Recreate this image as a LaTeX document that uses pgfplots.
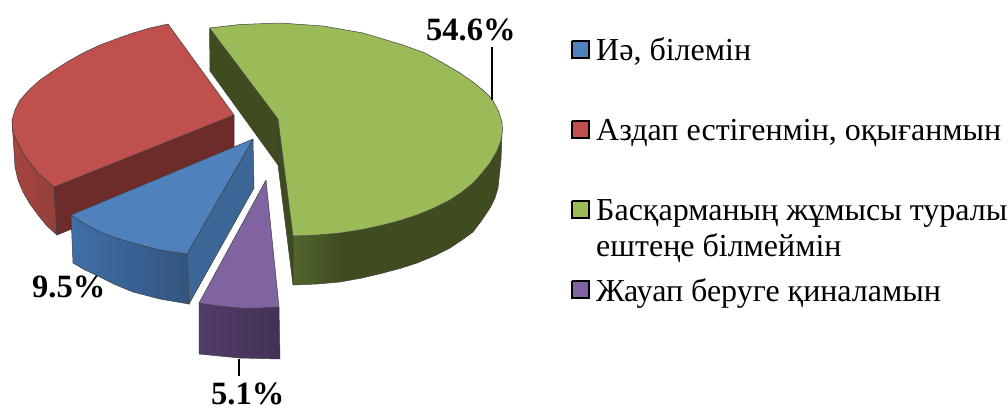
\documentclass[border=0pt]{standalone}
\usepackage{fontspec}
\setmainfont{Liberation Serif}
\usepackage{pgfplots}
\pgfplotsset{compat=1.18}

\definecolor{bluetop}{HTML}{4F81BD}
\definecolor{blueface}{HTML}{3C6695}
\definecolor{bluewallL}{HTML}{3F6FA8}
\definecolor{bluewallR}{HTML}{33557F}
\definecolor{redtop}{HTML}{C0504D}
\definecolor{redface}{HTML}{6D2B29}
\definecolor{redwallL}{HTML}{A8443F}
\definecolor{redwallR}{HTML}{93403C}
\definecolor{greentop}{HTML}{9BBB59}
\definecolor{greenface}{HTML}{3F4C20}
\definecolor{greenwallL}{HTML}{52662E}
\definecolor{purpletop}{HTML}{8064A2}
\definecolor{purplewallL}{HTML}{513C68}
\definecolor{purplewallR}{HTML}{433255}

\pgfplotsset{
  edge/.style={draw=black!75, line width=0.5pt, mark=none},
  bare/.style={draw=none, mark=none},
  swatch/.style={draw=black, line width=1.4pt, mark=none},
  leader/.style={draw=black, line width=1.3pt, mark=none},
}
\newcommand{\pct}[1]{{\fontsize{32.5}{32.5}\selectfont\bfseries #1}}
\newcommand{\leg}[1]{{\fontsize{32}{32}\selectfont #1}}

\begin{document}
\begin{tikzpicture}
\begin{axis}[
    scale only axis, width=1008pt, height=408pt,
    xmin=0, xmax=1008, ymin=0, ymax=408,
    y dir=reverse, axis lines=none, clip=false,
  ]
  % keeps the page as large as the whole frame
  \addplot[bare] coordinates {(0,0) (1008,408)};
  % red slice: outer wall, inner wall, top
  \addplot[edge, left color=redwallL, right color=redwallR] coordinates {
    (12,120) (13,133) (18,143) (23,153) (30,163) (38,173) (46,180) (54,187)
    (57,235) (47,226) (38,215) (30,204) (23,192) (18,180) (15,167) (12,120)};
  \addplot[edge, fill=redface] coordinates {(54,187) (234,115) (234,163) (57,235) (54,187)};
  \addplot[edge, fill=redtop] coordinates {
    (168,24) (150,28) (133,33) (116,39) (100,45) (83,53) (67,62) (53,71) (40,80)
    (29,90) (20,100) (15,110) (12,120) (13,133) (18,143) (23,153) (30,163) (38,173)
    (46,180) (54,187) (234,115) (168,24)};
  % green slice
  \addplot[bare, left color=greenwallL, right color=greenface] coordinates {
    (293,236) (317,235) (340,233) (340,282) (317,284) (293,285) (293,236)};
  \addplot[bare, fill=greenface] coordinates {
    (340,233) (362,229.5) (383,225) (400,220.5) (417,215) (434,208) (450,200) (462,192)
    (473,183) (482,173) (490,163) (497,151) (501,140) (502,133)
    (501,160) (498,188) (495,198) (490,208) (482,220) (473,232) (462,240) (450,248)
    (434,256) (417,263) (400,268.5) (383,273) (362,278) (340,282) (340,233)};
  \addplot[edge] coordinates {
    (293,236) (293,285) (317,284) (340,282) (362,278) (383,273) (400,268.5) (417,263)
    (434,256) (450,248) (462,240) (473,232) (482,220) (490,208) (495,198) (498,188)
    (501,160) (502,133)};
  \addplot[edge, fill=greenface] coordinates {(209.5,28) (278,119) (278,165) (210,71) (209.5,28)};
  \addplot[edge, fill=greenface] coordinates {(278,119) (293,236) (293,285) (278,165) (278,119)};
  \addplot[edge, fill=greentop] coordinates {
    (209.5,28) (240,24.5) (280,23) (323,26) (363,33) (403,45) (425,53) (443,63) (460,73)
    (473,82) (484,91) (492,99) (498,110) (502,122) (502.5,131) (501,140) (497,151) (490,163)
    (482,173) (473,183) (462,192) (450,200) (434,208) (417,215) (400,220.5) (383,225)
    (362,229.5) (340,233) (317,235) (293,236) (278,119) (209.5,28)};
  % blue slice
  \addplot[edge, left color=bluewallL, right color=bluewallR] coordinates {
    (71,215) (85,224) (100,232) (116,238) (133,243) (160,250) (187,254)
    (189,304) (160,299) (133,292) (116,285) (100,277) (85,270) (73,263) (71,215)};
  \addplot[edge, fill=blueface] coordinates {(253,139) (187,254) (189,304) (254,188) (253,139)};
  \addplot[edge, fill=bluetop] coordinates {
    (253,139) (71,215) (85,224) (100,232) (116,238) (133,243) (160,250) (187,254) (253,139)};
  % purple slice
  \addplot[edge, left color=purplewallL, right color=purplewallR] coordinates {
    (199,303) (215,305.5) (240,308) (279,307) (280,359) (240,358) (199,354) (199,303)};
  \addplot[edge, fill=purpletop] coordinates {
    (266,180) (199,303) (215,305.5) (240,308) (260,308) (279,307) (266,180)};
  % leader lines
  \addplot[leader] coordinates {(492,47) (492,100)};
  \addplot[leader] coordinates {(239,359) (239,376)};
  % legend keys
  \addplot[swatch, fill=bluetop] coordinates {(572,41) (589,41) (589,58) (572,58) (572,41)};
  \addplot[swatch, fill=redtop] coordinates {(572,121) (589,121) (589,138) (572,138) (572,121)};
  \addplot[swatch, fill=greentop] coordinates {(572,201) (589,201) (589,218) (572,218) (572,201)};
  \addplot[swatch, fill=purpletop] coordinates {(572,281) (589,281) (589,298) (572,298) (572,281)};

  \node[anchor=base west, inner sep=0pt] at (axis cs:426,40) {\pct{54.6\%}};
  \node[anchor=base west, inner sep=0pt] at (axis cs:32,297) {\pct{9.5\%}};
  \node[anchor=base west, inner sep=0pt] at (axis cs:211,404) {\pct{5.1\%}};

  \node[anchor=base west, inner sep=0pt] at (axis cs:596,60) {\leg{Иә, білемін}};
  \node[anchor=base west, inner sep=0pt] at (axis cs:596,140) {\leg{Аздап естігенмін, оқығанмын}};
  \node[anchor=base west, inner sep=0pt] at (axis cs:596,220) {\leg{Басқарманың жұмысы туралы}};
  \node[anchor=base west, inner sep=0pt] at (axis cs:596,256) {\leg{ештеңе білмеймін}};
  \node[anchor=base west, inner sep=0pt] at (axis cs:596,301) {\leg{Жауап беруге қиналамын}};
\end{axis}
\end{tikzpicture}
\end{document}
